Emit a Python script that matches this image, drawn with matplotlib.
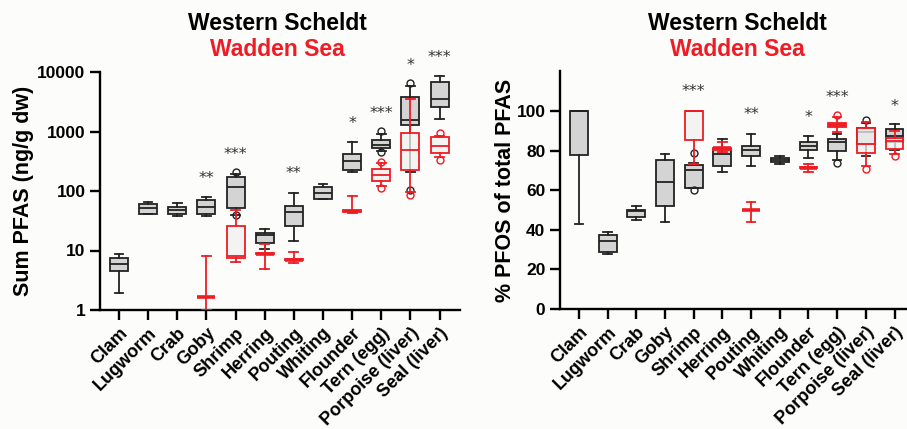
import numpy as np
import matplotlib.pyplot as plt
from matplotlib.ticker import NullLocator

plt.rcParams['font.family'] = ['Liberation Sans', 'DejaVu Sans']
plt.rcParams['font.weight'] = 'bold'

nan = np.nan
cats = ['Clam', 'Lugworm', 'Crab', 'Goby', 'Shrimp', 'Herring', 'Pouting',
        'Whiting', 'Flounder', 'Tern (egg)', 'Porpoise (liver)', 'Seal (liver)']

# sum PFAS (ng/g dw), Western Scheldt
sum_ws_lo = [1.96, 41, 38.2, 38.6, 39.7, 10.5, 14.5, 74, 208, 470, 205, 1637]
sum_ws_q1 = [4.6, 41.3, 41.8, 41.8, 52.7, 13.2, 26.2, 74.6, 227, 526, 1298, 2580]
sum_ws_med = [6.0, 52.7, 47.6, 54, 119, 18.3, 44.6, 94, 322, 600, 1534, 3515]
sum_ws_q3 = [7.5, 60, 54.8, 71, 169, 20, 57, 119, 417, 726, 3800, 6800]
sum_ws_hi = [8.65, 64.9, 64, 80, 192, 22.8, 92, 130, 655, 920, 5890, 8450]
sum_ws_fl = {'Shrimp': [212, 40], 'Tern (egg)': [1030, 455], 'Porpoise (liver)': [6530, 105]}

# sum PFAS, Wadden Sea
sum_wz_lo = [nan, nan, nan, 1.0, 6.5, 4.84, 6.1, nan, 42.4, 122, 98, 366]
sum_wz_q1 = [nan, nan, nan, 1.67, 7.4, 8.8, 6.9, nan, 45, 150, 227, 434]
sum_wz_med = [nan, nan, nan, 1.67, 8.1, 8.9, 7.0, nan, 47, 187, 480, 575]
sum_wz_q3 = [nan, nan, nan, 1.67, 26.2, 9.0, 7.1, nan, 47.5, 233, 942, 794]
sum_wz_hi = [nan, nan, nan, 8.2, 48.2, 12.9, 9.4, nan, 81, 294, 3515, 847]
sum_wz_fl = {'Tern (egg)': [313, 114], 'Porpoise (liver)': [86], 'Seal (liver)': [942, 334]}

sum_stars = {'Goby': ('**', 162), 'Shrimp': ('***', 417), 'Pouting': ('**', 200),
             'Flounder': ('*', 1387), 'Tern (egg)': ('***', 2042),
             'Porpoise (liver)': ('*', 12770), 'Seal (liver)': ('***', 17400)}

# % PFOS of total PFAS, Western Scheldt
pf_ws_lo = [42.8, 27.9, 44.8, 43.8, 61, 69.2, 72.1, 73.1, 76.3, 75.1, 77.1, 80.5]
pf_ws_q1 = [77.6, 28.8, 46.6, 52.2, 61.3, 72.4, 77.1, 74.3, 80.2, 80.0, 83.5, 84.4]
pf_ws_med = [100, 34.5, 49.5, 64.1, 70.4, 78.1, 80.2, 75.5, 82.2, 84.3, 89.4, 87.2]
pf_ws_q3 = [100, 37.4, 50, 75.4, 72.9, 81, 82.2, 76.3, 84.2, 86, 91.6, 90.8]
pf_ws_hi = [100, 38.7, 52, 78.1, 73.5, 86, 88.2, 77.1, 87.2, 88.5, 94, 93.3]
pf_ws_fl = {'Shrimp': [79, 60], 'Tern (egg)': [73.9], 'Porpoise (liver)': [95.3]}

# % PFOS, Wadden Sea
pf_wz_lo = [nan, nan, nan, nan, 73.4, 79.3, 44, nan, 69.2, 89.4, 72.1, 78.5]
pf_wz_q1 = [nan, nan, nan, nan, 85.5, 80.5, 49.8, nan, 71.2, 91.9, 78.8, 81]
pf_wz_med = [nan, nan, nan, nan, 100, 81.3, 50, nan, 71.4, 93.1, 83.5, 84.9]
pf_wz_q3 = [nan, nan, nan, nan, 100, 81.5, 50.2, nan, 71.6, 94.1, 91.3, 86.5]
pf_wz_hi = [nan, nan, nan, nan, 100, 84.4, 54, nan, 73.4, 97, 94.4, 89.9]
pf_wz_fl = {'Tern (egg)': [98.2], 'Porpoise (liver)': [70.9], 'Seal (liver)': [77.1]}

pf_stars = {'Shrimp': ('***', 110), 'Pouting': ('**', 98), 'Flounder': ('*', 96.6),
            'Tern (egg)': ('***', 106.6), 'Seal (liver)': ('*', 102.5)}

RED = '#ee1c24'


def make_stats(lo, q1, med, q3, hi, fliers):
    stats, pos = [], []
    for i in range(len(cats)):
        if np.isnan(med[i]):
            continue
        stats.append(dict(whislo=lo[i], q1=q1[i], med=med[i], q3=q3[i],
                          whishi=hi[i], fliers=fliers.get(cats[i], [])))
        pos.append(i)
    return stats, pos


def draw_boxes(ax, stats, pos, col, face, z, mlw=1.3):
    ax.bxp(stats, positions=pos, widths=0.62, capwidths=0.3, patch_artist=True,
           manage_ticks=False, zorder=z,
           boxprops=dict(facecolor=face, edgecolor=col, linewidth=1.3),
           medianprops=dict(color=col, linewidth=mlw),
           whiskerprops=dict(color=col, linewidth=1.3),
           capprops=dict(color=col, linewidth=1.3),
           flierprops=dict(marker='o', markerfacecolor='none', markeredgecolor=col,
                           markersize=5, markeredgewidth=1))


def panel(ax, ws, wz, ws_fl, wz_fl, stars):
    st, pos = make_stats(*ws, ws_fl)
    draw_boxes(ax, st, pos, '#222222', '#d4d4d4', 2)
    st, pos = make_stats(*wz, wz_fl)
    # collapsed red boxes get a thick median bar
    flat = [k for k in range(len(st)) if st[k]['q3'] - st[k]['q1'] < 0.05 * st[k]['med']]
    full = [k for k in range(len(st)) if k not in flat]
    draw_boxes(ax, [st[k] for k in full], [pos[k] for k in full], RED, (0.94, 0.94, 0.94, 0.75), 3)
    draw_boxes(ax, [st[k] for k in flat], [pos[k] for k in flat], RED, (0.94, 0.94, 0.94, 0.75), 3, mlw=2.6)
    for name, (s, v) in stars.items():
        ax.text(cats.index(name), v, s, ha='center', va='center', fontsize=11.5,
                fontweight='normal', color='#333333', family='DejaVu Sans', clip_on=False)
    for s in ['top', 'right']:
        ax.spines[s].set_visible(False)
    ax.spines['left'].set_linewidth(1.7)
    ax.spines['bottom'].set_linewidth(1.7)
    ax.tick_params(axis='both', width=1.7, length=7, labelsize=12.5)
    ax.set_xticks(range(len(cats)))
    ax.set_xticklabels(cats, rotation=45, ha='right', rotation_mode='anchor', fontsize=13)
    ax.patch.set_alpha(0)


fig = plt.figure(figsize=(9.07, 4.29), dpi=100)
fig.patch.set_facecolor('#fcfcfa')

ax1 = fig.add_axes([100 / 907, 119 / 429, 360 / 907, 238 / 429])
panel(ax1, (sum_ws_lo, sum_ws_q1, sum_ws_med, sum_ws_q3, sum_ws_hi),
      (sum_wz_lo, sum_wz_q1, sum_wz_med, sum_wz_q3, sum_wz_hi), sum_ws_fl, sum_wz_fl, sum_stars)
ax1.set_yscale('log')
ax1.set_ylim(1, 10000)
ax1.set_xlim(-0.65, 11.7)
ax1.set_yticks([1, 10, 100, 1000, 10000])
ax1.set_yticklabels(['1', '10', '100', '1000', '10000'])
ax1.yaxis.set_minor_locator(NullLocator())
ax1.set_ylabel('Sum PFAS (ng/g dw)', fontsize=15.5, fontweight='bold', labelpad=2)

ax2 = fig.add_axes([560 / 907, 120 / 429, 346 / 907, 237.6 / 429])
panel(ax2, (pf_ws_lo, pf_ws_q1, pf_ws_med, pf_ws_q3, pf_ws_hi),
      (pf_wz_lo, pf_wz_q1, pf_wz_med, pf_wz_q3, pf_wz_hi), pf_ws_fl, pf_wz_fl, pf_stars)
ax2.set_ylim(0, 120)
ax2.set_xlim(-0.66, 11.4)
ax2.set_yticks([0, 20, 40, 60, 80, 100])
ax2.set_ylabel('% PFOS of total PFAS', fontsize=15.5, fontweight='bold', labelpad=0)

for cx in [277, 737]:
    fig.text(cx / 907, 1 - 23 / 429, 'Western Scheldt', ha='center', va='center',
             fontsize=16.5, fontweight='bold', color='black')
    fig.text(cx / 907, 1 - 50 / 429, 'Wadden Sea', ha='center', va='center',
             fontsize=16.5, fontweight='bold', color=RED)

fig.savefig('out.png', dpi=100, facecolor=fig.get_facecolor())
